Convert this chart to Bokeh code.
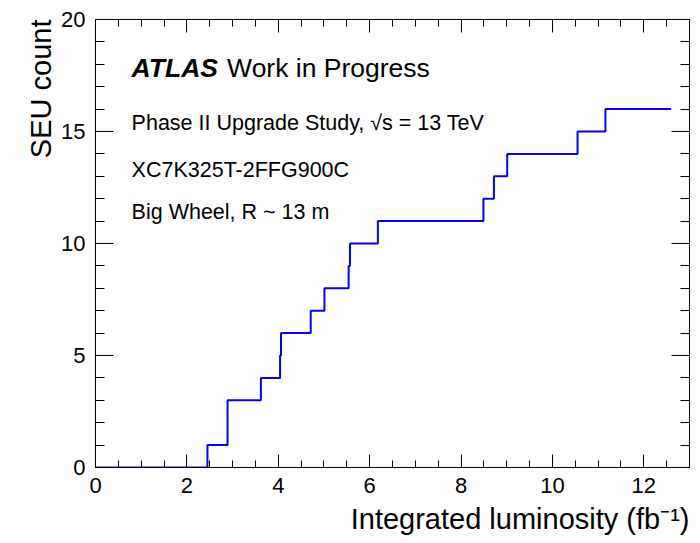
from bokeh.plotting import figure
from bokeh.models import Range1d, SingleIntervalTicker, LinearAxis, Label, Title
from bokeh.embed import file_html
from bokeh.resources import INLINE

# ---- data ----
lumi_steps = [0.0, 2.45, 2.89, 3.62, 4.04, 4.06, 4.71, 5.01, 5.54, 5.57,
              6.18, 8.49, 8.72, 9.01, 10.55, 11.16, 12.60]
seu_counts = [0, 1, 3, 4, 5, 6, 7, 8, 9, 10,
              11, 12, 13, 14, 15, 16, 16]
x_limits = (0, 13)
y_limits = (0, 20)
x_title = "Integrated luminosity (fb\u207b\u00b9)"
y_title = "SEU count"
atlas_word = "ATLAS"
atlas_status = "Work in Progress"
info_lines = ["Phase II Upgrade Study, \u221as = 13 TeV",
              "XC7K325T-2FFG900C",
              "Big Wheel, R ~ 13 m"]

FONT = "Liberation Sans"

p = figure(width=700, height=543,
           x_range=Range1d(*x_limits), y_range=Range1d(*y_limits),
           output_backend="svg", toolbar_location=None,
           min_border_left=95, min_border_right=11,
           min_border_top=19, min_border_bottom=76)
p.background_fill_color = "white"
p.border_fill_color = "white"
p.outline_line_color = "black"
p.outline_line_width = 1
p.xgrid.visible = False
p.ygrid.visible = False

xt = SingleIntervalTicker(interval=2, num_minor_ticks=4)
yt = SingleIntervalTicker(interval=5, num_minor_ticks=5)

def style_axis(ax, tick_major, tick_minor, show_labels):
    ax.major_tick_in = tick_major
    ax.major_tick_out = 0
    ax.minor_tick_in = tick_minor
    ax.minor_tick_out = 0
    ax.major_tick_line_color = "black"
    ax.minor_tick_line_color = "black"
    ax.axis_line_color = "black"
    if show_labels:
        ax.major_label_text_font = FONT
        ax.major_label_text_font_size = "22px"
        ax.major_label_text_color = "black"
        ax.major_label_standoff = 10
    else:
        ax.major_label_text_font_size = "0px"
        ax.major_label_text_alpha = 0
        ax.major_label_standoff = 0

xa = p.xaxis[0]
xa.ticker = xt
style_axis(xa, 13, 7, True)
ya = p.yaxis[0]
ya.ticker = yt
style_axis(ya, 18, 9, True)

top = LinearAxis(ticker=SingleIntervalTicker(interval=2, num_minor_ticks=4))
style_axis(top, 13, 7, False)
p.add_layout(top, "above")
right = LinearAxis(ticker=SingleIntervalTicker(interval=5, num_minor_ticks=5))
style_axis(right, 18, 9, False)
p.add_layout(right, "right")

p.step(lumi_steps, seu_counts, mode="after", line_color="#0000ff", line_width=2)

ylab = Title(text=y_title, align="right", text_font=FONT, text_font_size="29px",
             text_font_style="normal", text_color="black", standoff=4, offset=0)
p.add_layout(ylab, "left")
xlab = Title(text=x_title, align="right", text_font=FONT, text_font_size="29px",
             text_font_style="normal", text_color="black", standoff=10, offset=0)
p.add_layout(xlab, "below")

p.add_layout(Label(x=0.79, y=17.85, text=atlas_word, text_font=FONT,
                   text_font_size="26.5px", text_font_style="bold italic",
                   text_color="black", text_baseline="alphabetic"))
p.add_layout(Label(x=2.88, y=17.85, text=atlas_status, text_font=FONT,
                   text_font_size="26.5px", text_color="black",
                   text_baseline="alphabetic"))
for yy, line in zip([15.4, 13.3, 11.4], info_lines):
    p.add_layout(Label(x=0.79, y=yy, text=line, text_font=FONT,
                       text_font_size="21.5px", text_color="black",
                       text_baseline="alphabetic"))

open("out.html", "w").write(file_html(p, INLINE))
